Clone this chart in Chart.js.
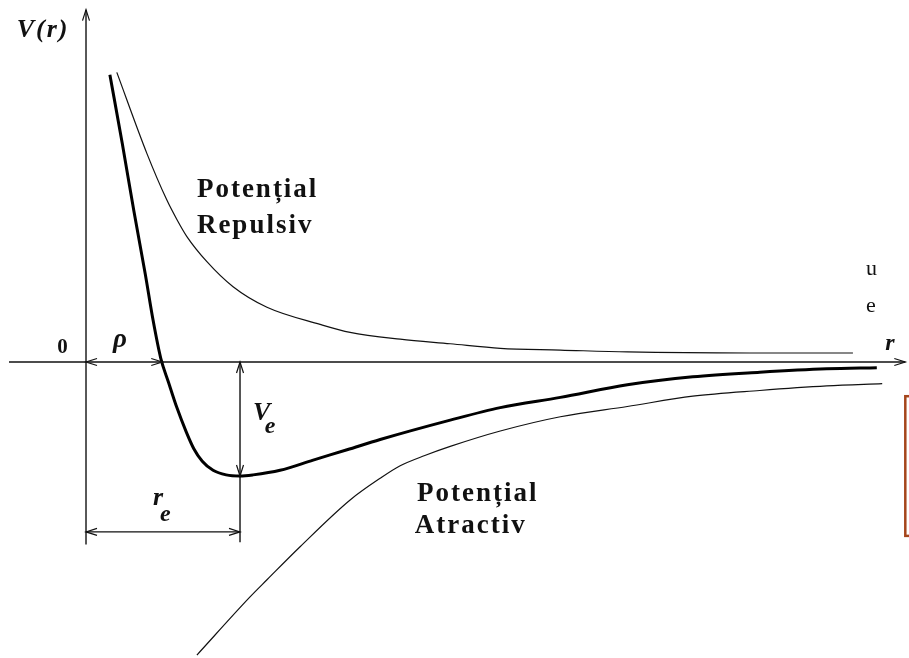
<!DOCTYPE html>
<html>
<head>
<meta charset="utf-8">
<script src="https://cdn.jsdelivr.net/npm/chart.js@4"></script>
<style>
  html, body { margin: 0; padding: 0; background: #fff; }
  #wrap { width: 909px; height: 658px; position: relative; }
</style>
</head>
<body>
<div id="wrap"><canvas id="chart"></canvas></div>
<script>
// distance r (r_e = 2) and potential V (V_e = -1)
const rTotal = [0.31, 0.47, 0.62, 0.77, 0.87, 0.97, 1.07, 1.18, 1.30, 1.40, 1.51, 1.65, 1.82, 2.0, 2.17, 2.52, 2.95, 3.39, 3.82, 4.73, 5.38, 6.16, 7.03, 7.88, 8.75, 9.62, 10.27];
const vTotal = [2.52, 1.92, 1.33, 0.77, 0.37, 0.035, -0.175, -0.40, -0.61, -0.76, -0.87, -0.95, -0.99, -1.0, -0.99, -0.95, -0.86, -0.77, -0.68, -0.51, -0.40, -0.31, -0.20, -0.13, -0.09, -0.06, -0.05];

const rRepulsive = [0.40, 0.79, 1.05, 1.18, 1.31, 1.57, 1.91, 2.35, 3.04, 3.43, 4.08, 4.73, 5.38, 6.16, 7.03, 8.62, 9.96];
const vRepulsive = [2.54, 1.83, 1.42, 1.25, 1.10, 0.88, 0.66, 0.48, 0.33, 0.26, 0.20, 0.16, 0.12, 0.105, 0.088, 0.079, 0.079];

const rAttractive = [1.44, 2.13, 2.35, 2.78, 3.43, 3.82, 4.08, 4.40, 4.73, 5.38, 6.16, 7.03, 7.88, 8.75, 9.62, 10.34];
const vAttractive = [-2.57, -2.06, -1.91, -1.62, -1.21, -1.02, -0.91, -0.82, -0.74, -0.605, -0.48, -0.39, -0.30, -0.25, -0.21, -0.19];

const rho = 0.99;   // zero crossing of V(r)
const rEq = 2.0;    // r_e
const vEq = -1.0;   // V_e

// axes and dimension lines
const xAxisFrom = -1.0, xAxisTo = 10.64;
const yAxisFrom = -1.6, yAxisTo = 3.09;
const vDimLine = -1.49;   // level of the r_e arrow
const vEqLineEnd = -1.58;

const pts = (xs, ys) => xs.map((x, i) => ({ x, y: ys[i] }));

const serif = '"Liberation Serif", "DejaVu Serif", serif';
const labels = [
  { text: 'V(r)', r: -0.90, v: 2.85, font: 'italic bold 26px ' + serif, spacing: 2 },
  { text: '0', r: -0.305, v: 0.08, font: 'bold 21px ' + serif, align: 'center' },
  { text: 'ρ', r: 0.35, v: 0.13, font: 'italic bold 27px ' + serif },
  { text: 'V', r: 2.17, v: -0.51, font: 'italic bold 26px ' + serif },
  { text: 'e', r: 2.32, v: -0.62, font: 'italic bold 24px ' + serif },
  { text: 'r', r: 0.87, v: -1.25, font: 'italic bold 26px ' + serif },
  { text: 'e', r: 0.96, v: -1.395, font: 'italic bold 24px ' + serif },
  { text: 'Potențial', r: 1.44, v: 1.45, font: 'bold 27px ' + serif, spacing: 2 },
  { text: 'Repulsiv', r: 1.44, v: 1.13, font: 'bold 27px ' + serif, spacing: 2 },
  { text: 'Potențial', r: 4.30, v: -1.22, font: 'bold 27px ' + serif, spacing: 2 },
  { text: 'Atractiv', r: 4.27, v: -1.50, font: 'bold 27px ' + serif, spacing: 2 },
  { text: 'r', r: 10.38, v: 0.105, font: 'italic bold 24px ' + serif },
  { text: 'u', r: 10.13, v: 0.76, font: '22px ' + serif },
  { text: 'e', r: 10.13, v: 0.44, font: '22px ' + serif }
];

const arrows = [
  { r: xAxisTo, v: 0, dir: [1, 0] },
  { r: 0, v: yAxisTo, dir: [0, -1] },
  { r: 0, v: 0, dir: [-1, 0] },
  { r: rho, v: 0, dir: [1, 0] },
  { r: rEq, v: 0, dir: [0, -1] },
  { r: rEq, v: vEq, dir: [0, 1] },
  { r: 0, v: vDimLine, dir: [-1, 0] },
  { r: rEq, v: vDimLine, dir: [1, 0] }
];

const figurePlugin = {
  id: 'figure',
  afterDatasetsDraw(chart) {
    const { ctx, scales: { x, y } } = chart;
    const X = v => x.getPixelForValue(v);
    const Y = v => y.getPixelForValue(v);
    ctx.save();

    ctx.strokeStyle = '#111';
    ctx.lineWidth = 1.2;
    arrows.forEach(a => {
      const tx = X(a.r), ty = Y(a.v);
      const [dx, dy] = a.dir;
      const len = 11, half = 3.5;
      ctx.beginPath();
      ctx.moveTo(tx - dx * len - dy * half, ty - dy * len - dx * half);
      ctx.lineTo(tx, ty);
      ctx.lineTo(tx - dx * len + dy * half, ty - dy * len + dx * half);
      ctx.stroke();
    });

    ctx.fillStyle = '#111';
    ctx.textBaseline = 'alphabetic';
    labels.forEach(l => {
      ctx.font = l.font;
      ctx.letterSpacing = (l.spacing || 0) + 'px';
      ctx.textAlign = l.align || 'left';
      ctx.fillText(l.text, X(l.r), Y(l.v));
    });

    // framed box at the right edge
    ctx.strokeStyle = '#a5451b';
    ctx.lineWidth = 2.5;
    ctx.strokeRect(X(10.64), Y(-0.30), X(12) - X(10.64), Y(-1.525) - Y(-0.30));

    ctx.restore();
  }
};

const thin = { borderColor: '#111', borderWidth: 1.2, cubicInterpolationMode: 'monotone' };
const rule = { borderColor: '#111', borderWidth: 1.4 };

new Chart(document.getElementById('chart'), {
  type: 'scatter',
  data: {
    datasets: [
      { data: pts(rTotal, vTotal), showLine: true, borderColor: '#000', borderWidth: 3, cubicInterpolationMode: 'monotone' },
      { data: pts(rRepulsive, vRepulsive), showLine: true, ...thin },
      { data: pts(rAttractive, vAttractive), showLine: true, ...thin },
      { data: [{ x: xAxisFrom, y: 0 }, { x: xAxisTo, y: 0 }], showLine: true, ...rule },
      { data: [{ x: 0, y: yAxisFrom }, { x: 0, y: yAxisTo }], showLine: true, ...rule },
      { data: [{ x: rEq, y: 0 }, { x: rEq, y: vEqLineEnd }], showLine: true, ...rule },
      { data: [{ x: 0, y: vDimLine }, { x: rEq, y: vDimLine }], showLine: true, ...rule }
    ]
  },
  options: {
    responsive: true,
    maintainAspectRatio: false,
    animation: false,
    layout: { padding: 0 },
    elements: { point: { radius: 0, hoverRadius: 0 } },
    plugins: {
      legend: { display: false },
      tooltip: { enabled: false }
    },
    scales: {
      x: { type: 'linear', display: false, min: -1.117, max: 10.688 },
      y: { type: 'linear', display: false, min: -2.596, max: 3.175 }
    }
  },
  plugins: [figurePlugin]
});
</script>
</body>
</html>
